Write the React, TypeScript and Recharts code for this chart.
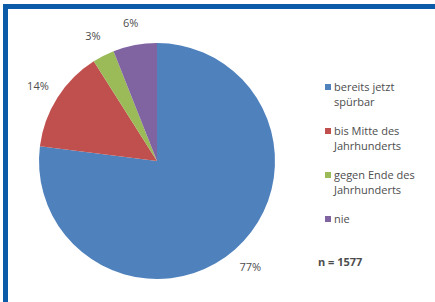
import React from "react";
import { PieChart, Pie, Cell, Legend } from "recharts";

// Antworten (Anteil in %)
const categories = [
  "bereits jetzt spürbar",
  "bis Mitte des Jahrhunderts",
  "gegen Ende des Jahrhunderts",
  "nie",
];
const shares = [77, 14, 3, 6];
const colors = ["#4f81bd", "#c0504d", "#9bbb59", "#8064a2"];
const sampleSize = "n = 1577";

const data = categories.map((name, i) => ({ name, value: shares[i] }));

const RADIAN = Math.PI / 180;
const textColor = "#4d4d4d";
const font = "'Open Sans', 'DejaVu Sans', sans-serif";

function renderLabel(props: any) {
  const { cx, cy, midAngle, outerRadius, value } = props;
  const r = outerRadius + 23;
  const x = cx + r * Math.cos(-midAngle * RADIAN);
  const y = cy + r * Math.sin(-midAngle * RADIAN);
  return (
    <text
      x={x}
      y={y}
      textAnchor="middle"
      dominantBaseline="central"
      fill={textColor}
      fontSize={11}
      fontFamily={font}
    >
      {value}%
    </text>
  );
}

function LegendContent(props: any) {
  const { payload } = props;
  return (
    <div style={{ fontFamily: font, fontSize: 11, color: textColor }}>
      {payload.map((entry: any, i: number) => (
        <div
          key={i}
          style={{ display: "flex", alignItems: "flex-start", marginBottom: 14, lineHeight: "15px" }}
        >
          <span
            style={{
              display: "inline-block",
              width: 6,
              height: 6,
              marginTop: 5,
              marginRight: 3,
              background: entry.color,
              flexShrink: 0,
            }}
          />
          <span style={{ width: 100 }}>{entry.value}</span>
        </div>
      ))}
    </div>
  );
}

export default function App() {
  return (
    <div
      style={{
        position: "absolute",
        left: 0,
        top: 0,
        width: 435,
        height: 302,
        background: "#ffffff",
        overflow: "hidden",
      }}
    >
      <div
        style={{
          position: "absolute",
          left: 3,
          top: 4,
          right: 0,
          bottom: 0,
          borderLeft: "5px solid #0b5ba8",
          borderTop: "5px solid #0b5ba8",
        }}
      />
      <PieChart
        width={435}
        height={302}
        margin={{ top: 0, right: 0, bottom: 0, left: 0 }}
        style={{ position: "absolute", left: 0, top: 0 }}
      >
        <Pie
          data={data}
          dataKey="value"
          nameKey="name"
          cx={157}
          cy={161}
          outerRadius={118}
          startAngle={90}
          endAngle={-270}
          stroke="none"
          label={renderLabel}
          labelLine={false}
          isAnimationActive={false}
        >
          {data.map((d, i) => (
            <Cell key={d.name} fill={colors[i]} />
          ))}
        </Pie>
        <Legend
          layout="vertical"
          content={<LegendContent />}
          wrapperStyle={{ position: "absolute", left: 325, top: 79, width: 110 }}
        />
      </PieChart>
      <div
        style={{
          position: "absolute",
          left: 318,
          top: 254,
          fontFamily: font,
          fontSize: 11,
          fontWeight: 700,
          color: textColor,
        }}
      >
        {sampleSize}
      </div>
    </div>
  );
}
